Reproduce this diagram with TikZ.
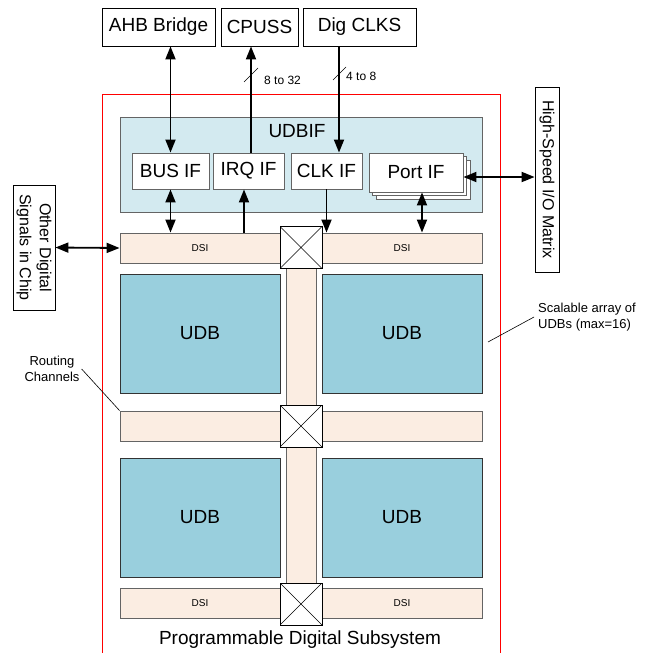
\documentclass[tikz,border=0pt]{standalone}
\usepackage{fontspec}
\setmainfont{Liberation Sans}
\usetikzlibrary{arrows.meta,shadows}
\definecolor{ifblue}{RGB}{211,234,240}
\definecolor{udbblue}{RGB}{153,207,221}
\definecolor{dsipeach}{RGB}{251,237,226}
\definecolor{edgegray}{RGB}{100,100,100}

\begin{document}
\begin{tikzpicture}[x=1pt,y=-1pt,
    every node/.style={font=\fontsize{19}{22}\selectfont, inner sep=0pt},
    blk/.style={draw, fill=white, line width=0.8pt, minimum height=38pt},
    ifbox/.style={draw=edgegray, fill=white, line width=0.9pt, minimum height=36pt},
    sidebox/.style={draw, fill=white, line width=0.8pt, rotate=-90, align=center,
      font=\fontsize{16}{20}\selectfont},
    dsi/.style={draw=edgegray, fill=dsipeach, line width=0.9pt, minimum width=160pt,
      minimum height=30pt, font=\fontsize{10}{12}\selectfont},
    vch/.style={draw=edgegray, fill=dsipeach, line width=0.9pt, minimum width=30pt},
    udb/.style={draw=black!80, fill=udbblue, line width=0.9pt, minimum width=160pt,
      minimum height=119pt},
    xsw/.style={draw, fill=white, line width=0.9pt, minimum size=42pt,
      path picture={\draw[line width=0.6pt]
        (path picture bounding box.north west) -- (path picture bounding box.south east)
        (path picture bounding box.north east) -- (path picture bounding box.south west);}},
    sig/.style={line width=1.8pt, -{Triangle[length=13pt,width=10pt]}},
    bisig/.style={line width=1.8pt, {Triangle[length=13pt,width=10pt]}-{Triangle[length=13pt,width=10pt]}},
    note/.style={font=\fontsize{13}{15.5}\selectfont, align=center},
    buswd/.style={font=\fontsize{12}{14}\selectfont, anchor=west}]
  \useasboundingbox (0,0) rectangle (650,653);

  % Programmable Digital Subsystem
  \draw[red, line width=0.9pt] (102,670) -- (102,94) -- (500,94) -- (500,670);
  \node (pdsname) at (300,640) {Programmable Digital Subsystem};

  % Top blocks
  \node[blk, minimum width=113pt] (ahb) at (158.5,27) {AHB Bridge};
  \node[blk, minimum width=77pt] (cpuss) at (259.5,27) {CPUSS};
  \node[blk, minimum width=113pt] (digclk) at (359.5,27) {Dig CLKS};

  % UDBIF
  \node[draw=edgegray, fill=ifblue, line width=0.9pt, minimum width=362pt,
    minimum height=95pt] (udbif) at (301,164.5) {};
  \node (udbiftxt) at (297,131) {UDBIF};
  \node[ifbox, minimum width=77pt] (busif) at (170.5,171) {BUS IF};
  \node[ifbox, minimum width=71pt] (irqif) at (248.5,171) {IRQ IF};
  \node[ifbox, minimum width=71pt] (clkif) at (326.5,171) {CLK IF};
  \node[ifbox, minimum width=94pt, minimum height=39pt,
    double copy shadow={shadow xshift=3.5pt, shadow yshift=-3.5pt}] (portif) at (416,172.5) {Port IF};

  % Routing channels
  \node[dsi] (dsitl) at (200,248) {DSI};
  \node[dsi] (dsitr) at (402,248) {DSI};
  \node[dsi] (rchl) at (200,426) {};
  \node[dsi] (rchr) at (402,426) {};
  \node[dsi] (dsibl) at (200,603.5) {DSI};
  \node[dsi] (dsibr) at (402,603.5) {DSI};
  \node[vch, minimum height=137pt] (vch1) at (301,336.5) {};
  \node[vch, minimum height=136pt] (vch2) at (301,515) {};
  \node[xsw] (xsw1) at (301,247.5) {};
  \node[xsw] (xsw2) at (301,426) {};
  \node[xsw] (xsw3) at (301,604) {};

  % UDB array
  \node[udb] (udb1) at (200,333.5) {UDB};
  \node[udb] (udb2) at (402,333.5) {UDB};
  \node[udb] (udb3) at (200,517.5) {UDB};
  \node[udb] (udb4) at (402,517.5) {UDB};

  % Side blocks
  \node[sidebox, minimum width=125pt, minimum height=42pt] (other) at (34,247.5)
    {Other Digital\\Signals in Chip};
  \node[sidebox, minimum width=185pt, minimum height=24pt] (hsio) at (547,179.5)
    {High-Speed I/O Matrix};

  % Connections
  \coordinate (irqout) at ([xshift=2.5pt]irqif.north);
  \coordinate (clkin) at ([xshift=12.5pt]clkif.north);
  \coordinate (irqin) at ([xshift=-4.5pt]irqif.south);
  \coordinate (portdn) at ([xshift=6pt]portif.south);
  \coordinate (portout) at ([yshift=-4.5pt]portif.east);
  \draw[bisig] (busif.north) -- (busif.north |- ahb.south);
  \draw[sig] (irqout) -- (irqout |- cpuss.south);
  \draw[sig] (clkin |- digclk.south) -- (clkin);
  \draw[bisig] (busif.south) -- (busif.south |- dsitl.north);
  \draw[sig] (irqin |- dsitl.north) -- (irqin);
  \draw[sig] (clkif.south) -- (clkif.south |- dsitr.north);
  \draw[bisig] (portdn) -- (portdn |- dsitr.north);
  \draw[bisig] (portout) -- (portout -| hsio.south);
  \draw[bisig] (other.north) -- (dsitl.west);

  % Bus widths
  \draw[line width=0.6pt] (244,82) -- (258,68);
  \node[buswd] (cpwd) at (264,80) {8 to 32};
  \draw[line width=0.6pt] (333,80) -- (346,67);
  \node[buswd] (clkwd) at (346,76) {4 to 8};

  % Notes
  \node[note] (rtlbl) at (52,369) {Routing\\Channels};
  \draw[line width=0.6pt] ([xshift=2pt]rtlbl.east) -- (rchl.north west);
  \node[note, align=left, anchor=west] (scl) at (538,317) {Scalable array of\\UDBs (max=16)};
  \coordinate (sclend) at (488,342);
  \draw[line width=0.6pt] ([xshift=-4pt]scl.west) -- (sclend);
\end{tikzpicture}
\end{document}
